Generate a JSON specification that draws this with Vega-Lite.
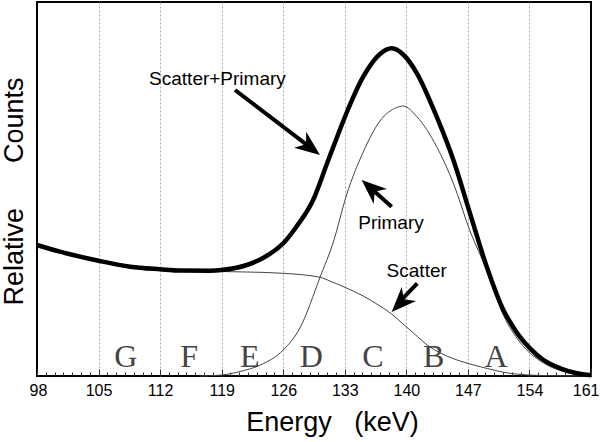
{
  "$schema": "https://vega.github.io/schema/vega-lite/v6.json",
  "width": 554,
  "height": 374,
  "autosize": {"type": "none"},
  "padding": {"left": 37, "top": 2, "right": 9, "bottom": 66},
  "background": "white",
  "config": {
    "view": {"stroke": "black", "strokeWidth": 2},
    "font": "Liberation Sans",
    "axis": {"labelOverlap": false, "labelFontSize": 16, "labelColor": "black"}
  },
  "datasets": {
    "total": [
      {"e": 98, "c": 131}, {"e": 100.6, "c": 124.3}, {"e": 105, "c": 115.3}, {"e": 108.6, "c": 109.3},
      {"e": 112, "c": 106.7}, {"e": 114.3, "c": 105.4}, {"e": 117.7, "c": 105.3}, {"e": 119, "c": 106},
      {"e": 121.85, "c": 111}, {"e": 123.7, "c": 118}, {"e": 126, "c": 132.7}, {"e": 127.5, "c": 149.3},
      {"e": 129.4, "c": 176}, {"e": 131, "c": 213}, {"e": 132.3, "c": 243}, {"e": 133.2, "c": 263},
      {"e": 135.1, "c": 299.3}, {"e": 137, "c": 322}, {"e": 138.35, "c": 327.7}, {"e": 139.7, "c": 321},
      {"e": 141.2, "c": 302.7}, {"e": 143.45, "c": 259.3}, {"e": 145.35, "c": 216}, {"e": 147.24, "c": 162.7},
      {"e": 149.14, "c": 109.3}, {"e": 151.03, "c": 66}, {"e": 151.8, "c": 54}, {"e": 152.9, "c": 39.3},
      {"e": 154.06, "c": 27.7}, {"e": 155.6, "c": 16}, {"e": 157.5, "c": 7.7}, {"e": 159.4, "c": 2.7},
      {"e": 161, "c": 0.8}
    ],
    "primary": [
      {"e": 116.5, "c": 0}, {"e": 118.8, "c": 0.8}, {"e": 121.1, "c": 4.5}, {"e": 123.4, "c": 11},
      {"e": 126, "c": 26}, {"e": 127.9, "c": 48}, {"e": 130.2, "c": 99}, {"e": 131.7, "c": 134},
      {"e": 133.2, "c": 181}, {"e": 135.1, "c": 224}, {"e": 137, "c": 255}, {"e": 138.9, "c": 268.5},
      {"e": 139.65, "c": 270}, {"e": 141.2, "c": 259.3}, {"e": 143.45, "c": 229.3}, {"e": 145.35, "c": 192.7},
      {"e": 147.24, "c": 145}, {"e": 149.14, "c": 106}, {"e": 151.03, "c": 61}, {"e": 152.9, "c": 34},
      {"e": 155.6, "c": 13}, {"e": 157.5, "c": 5.5}, {"e": 159.4, "c": 1.5}, {"e": 161, "c": 0}
    ],
    "scatter": [
      {"e": 98, "c": 131}, {"e": 100.6, "c": 124.3}, {"e": 105, "c": 115.3}, {"e": 108.6, "c": 109.3},
      {"e": 112, "c": 106.7}, {"e": 114.3, "c": 105.3}, {"e": 117.7, "c": 105}, {"e": 119, "c": 104.5},
      {"e": 121.85, "c": 104}, {"e": 126, "c": 102.7}, {"e": 130.2, "c": 98.7}, {"e": 131.3, "c": 95},
      {"e": 133.2, "c": 88}, {"e": 135.1, "c": 80}, {"e": 137, "c": 70}, {"e": 138.33, "c": 62},
      {"e": 139.5, "c": 53}, {"e": 140.8, "c": 43}, {"e": 142.7, "c": 29}, {"e": 144.6, "c": 20},
      {"e": 146.1, "c": 15}, {"e": 148.4, "c": 9.3}, {"e": 151.8, "c": 2.7}, {"e": 155.5, "c": 0.5},
      {"e": 161, "c": 0}
    ],
    "letters": [
      {"e": 108.1, "c": 9, "t": "G"}, {"e": 115.3, "c": 9, "t": "F"}, {"e": 122.2, "c": 9, "t": "E"},
      {"e": 129.2, "c": 9, "t": "D"}, {"e": 136.2, "c": 9, "t": "C"}, {"e": 143.1, "c": 9, "t": "B"},
      {"e": 150.2, "c": 9, "t": "A"}
    ],
    "labels": [
      {"e": 118.52, "c": 291, "t": "Scatter+Primary"},
      {"e": 138.26, "c": 147, "t": "Primary"},
      {"e": 141.18, "c": 98.7, "t": "Scatter"}
    ],
    "arrows": [
      {"e": 120.52, "c": 286, "e2": 129.1, "c2": 228.3, "te": 130.18, "tc": 221, "ang": 127.4},
      {"e": 138.33, "c": 169.3, "e2": 135.94, "c2": 188, "te": 134.92, "tc": 196, "ang": 311.6},
      {"e": 141.24, "c": 92.7, "e2": 139.28, "c2": 74.7, "te": 138.33, "tc": 64, "ang": 223.8}
    ]
  },
  "encoding": {
    "x": {
      "field": "e", "type": "quantitative",
      "scale": {"domain": [98, 161], "nice": false, "zero": false},
      "axis": {
        "values": [98,99,100,101,102,103,104,105,106,107,108,109,110,111,112,113,114,115,116,117,118,119,120,121,122,123,124,125,126,127,128,129,130,131,132,133,134,135,136,137,138,139,140,141,142,143,144,145,146,147,148,149,150,151,152,153,154,155,156,157,158,159,160,161],
        "labelExpr": "(datum.value - 98) % 7 === 0 ? datum.label : ''",
        "labelOverlap": false,
        "labelFontSize": 16,
        "labelColor": "black",
        "labelPadding": 13,
        "labelFlush": true,
        "labelFlushOffset": 8,
        "domain": false,
        "ticks": true,
        "tickColor": "#333",
        "tickWidth": 1,
        "tickSize": {"condition": {"test": "(datum.value - 98) % 7 === 0", "value": -7}, "value": -4},
        "grid": true,
        "gridColor": "#aaa",
        "gridWidth": 1,
        "gridDash": [2, 2],
        "gridOpacity": {"condition": {"test": "(datum.value - 98) % 7 === 0 && datum.value > 98 && datum.value < 161", "value": 1}, "value": 0},
        "title": "Energy\u00a0\u00a0\u00a0(keV)",
        "titleFontSize": 27,
        "titleFontWeight": "normal",
        "titleColor": "black",
        "titleX": 295,
        "titleY": 54,
        "titleBaseline": "alphabetic",
        "titleAlign": "center"
      }
    },
    "y": {
      "field": "c", "type": "quantitative",
      "scale": {"domain": [0, 374], "nice": false, "zero": false},
      "axis": {
        "labels": false,
        "ticks": false,
        "grid": false,
        "domain": false,
        "title": "Relative\u00a0\u00a0\u00a0\u00a0\u00a0\u00a0Counts",
        "titleFontSize": 27,
        "titleFontWeight": "normal",
        "titleColor": "black",
        "titleAngle": 270,
        "titleX": -23,
        "titleY": 189,
        "titleBaseline": "middle",
        "titleAlign": "center"
      }
    }
  },
  "layer": [
    {
      "data": {"name": "primary"},
      "mark": {"type": "line", "color": "#444", "strokeWidth": 1, "interpolate": "monotone"}
    },
    {
      "data": {"name": "scatter"},
      "mark": {"type": "line", "color": "#444", "strokeWidth": 1, "interpolate": "monotone"}
    },
    {
      "data": {"name": "total"},
      "mark": {"type": "line", "color": "black", "strokeWidth": 4.5, "interpolate": "monotone"}
    },
    {
      "data": {"name": "letters"},
      "mark": {"type": "text", "font": "Liberation Serif", "fontSize": 32, "color": "#444", "baseline": "alphabetic", "align": "center"},
      "encoding": {
        "text": {"field": "t"}
      }
    },
    {
      "data": {"name": "labels"},
      "mark": {"type": "text", "font": "Liberation Sans", "fontSize": 19, "color": "black", "baseline": "alphabetic", "align": "center"},
      "encoding": {
        "text": {"field": "t"}
      }
    },
    {
      "data": {"name": "arrows"},
      "mark": {"type": "rule", "color": "black", "strokeWidth": 4},
      "encoding": {
        "x2": {"field": "e2"},
        "y2": {"field": "c2"}
      }
    },
    {
      "data": {"name": "arrows"},
      "mark": {"type": "point", "shape": "M0,0 L0.8,2 L0,1.4 L-0.8,2 Z", "size": 625, "filled": true, "color": "black", "opacity": 1, "strokeWidth": 0},
      "encoding": {
        "x": {"field": "te", "type": "quantitative"},
        "y": {"field": "tc", "type": "quantitative"},
        "angle": {"field": "ang", "type": "quantitative", "scale": null}
      }
    }
  ]
}
